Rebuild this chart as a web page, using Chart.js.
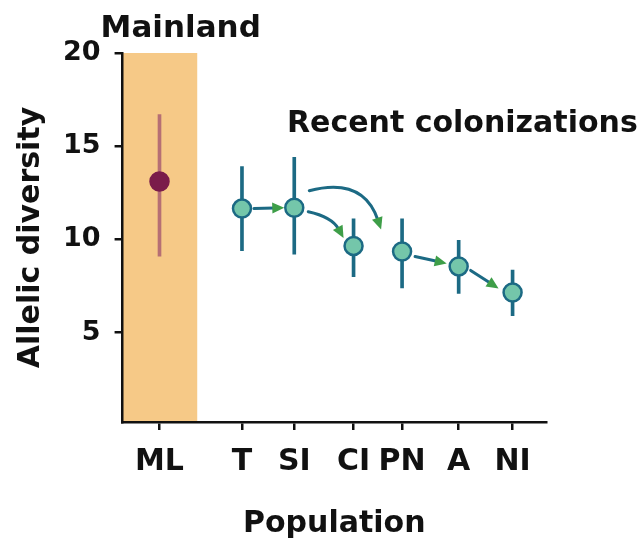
<!DOCTYPE html>
<html lang="en">
<head>
  <meta charset="UTF-8">
  <title>Allelic diversity by population</title>
  <script src="https://cdn.jsdelivr.net/npm/chart.js@4"></script>
  <style>
    body { margin: 0; background: #fff; }
    .wrap { width: 644px; height: 542px; position: relative; }
  </style>
</head>
<body>
<div class="wrap"><canvas id="chart"></canvas></div>

<script>
  // data
  const populations = ['ML', 'T', 'SI', 'CI', 'PN', 'A', 'NI'];
  const slots = [0, 1.53, 2.5, 3.6, 4.5, 5.55, 6.55];   // spacing of the category slots on the x axis
  const means = [13.1, 11.65, 11.7, 9.65, 9.35, 8.55, 7.15];
  const lows = [9.1, 9.4, 9.2, 8.0, 7.4, 7.1, 5.9];
  const highs = [16.7, 13.9, 14.4, 11.1, 11.1, 9.95, 8.35];
  const yTicks = [5, 10, 15, 20];

  // colonization arrows: from -> to
  const arrows = [
    { from: 'T', to: 'SI', start: [12, 0], end: [-10, 0], bend: 0 },
    { from: 'SI', to: 'CI', start: [14, 4], end: [-10, -8], bend: 10 },
    { from: 'SI', to: 'PN', start: [15, -17], end: [-21, -22], bend: 38 },
    { from: 'PN', to: 'A', start: [13, 5], end: [-12, -3], bend: 0 },
    { from: 'A', to: 'NI', start: [12, 4], end: [-14, -4], bend: 0 }
  ];

  const teal = '#1c6a84';
  const mint = '#74c6aa';
  const green = '#3e9e48';
  const maroon = '#7a1c4a';
  const maroonBar = '#b66f74';
  const bandColor = '#f6c987';
  const fontFamily = "'DejaVu Sans', sans-serif";

  Chart.defaults.font.family = fontFamily;
  Chart.defaults.color = '#111';

  const bandPlugin = {
    id: 'band',
    beforeDraw(chart) {
      const { ctx, chartArea, scales: { x, y } } = chart;
      ctx.save();
      ctx.fillStyle = bandColor;
      const x1 = x.getPixelForValue(0.7);
      const y0 = y.getPixelForValue(20);
      ctx.fillRect(chartArea.left, y0, x1 - chartArea.left, chartArea.bottom - y0);
      ctx.restore();
    }
  };

  const arrowPlugin = {
    id: 'arrows',
    afterDatasetsDraw(chart) {
      const { ctx, scales: { x, y } } = chart;
      ctx.save();
      arrows.forEach(a => {
        const i = populations.indexOf(a.from), j = populations.indexOf(a.to);
        const p0 = [x.getPixelForValue(slots[i]) + a.start[0], y.getPixelForValue(means[i]) + a.start[1]];
        const p2 = [x.getPixelForValue(slots[j]) + a.end[0], y.getPixelForValue(means[j]) + a.end[1]];
        const dx = p2[0] - p0[0], dy = p2[1] - p0[1];
        const len = Math.hypot(dx, dy);
        const mid = [(p0[0] + p2[0]) / 2, (p0[1] + p2[1]) / 2];
        const c = [mid[0] + dy / len * a.bend, mid[1] - dx / len * a.bend];
        // tangent at the tip
        let tx = p2[0] - c[0], ty = p2[1] - c[1];
        const tl = Math.hypot(tx, ty);
        tx /= tl; ty /= tl;
        const headLen = 12, headW = 5.5;
        const base = [p2[0] - tx * headLen, p2[1] - ty * headLen];
        ctx.strokeStyle = teal;
        ctx.lineWidth = 3;
        ctx.lineCap = 'round';
        ctx.beginPath();
        ctx.moveTo(p0[0], p0[1]);
        ctx.quadraticCurveTo(c[0], c[1], base[0] + tx * 2, base[1] + ty * 2);
        ctx.stroke();
        ctx.fillStyle = green;
        ctx.beginPath();
        ctx.moveTo(p2[0], p2[1]);
        ctx.lineTo(base[0] - ty * headW, base[1] + tx * headW);
        ctx.lineTo(base[0] + ty * headW, base[1] - tx * headW);
        ctx.closePath();
        ctx.fill();
      });
      ctx.restore();
    },
    afterDraw(chart) {
      const { ctx, chartArea, scales: { x, y } } = chart;
      ctx.save();
      ctx.fillStyle = '#111';
      ctx.textAlign = 'left';
      ctx.textBaseline = 'alphabetic';
      ctx.font = 'bold 31px ' + fontFamily;
      ctx.fillText('Mainland', chartArea.left - 22, chartArea.top - 16);
      ctx.font = 'bold 30px ' + fontFamily;
      ctx.fillText('Recent colonizations', x.getPixelForValue(slots[1]) + 45, y.getPixelForValue(15.77));
      ctx.restore();
    }
  };

  new Chart(document.getElementById('chart'), {
    data: {
      datasets: [
        {
          type: 'scatter',
          data: slots.map((s, i) => ({ x: s, y: means[i] })),
          pointRadius: 9,
          pointHoverRadius: 9,
          pointBorderWidth: 2.5,
          pointBackgroundColor: populations.map(p => p === 'ML' ? maroon : mint),
          pointBorderColor: populations.map(p => p === 'ML' ? maroon : teal),
          order: 0
        },
        {
          type: 'bar',
          data: slots.map((s, i) => ({ x: s, y: [lows[i], highs[i]] })),
          backgroundColor: populations.map(p => p === 'ML' ? maroonBar : teal),
          barThickness: 3,
          order: 1
        }
      ]
    },
    options: {
      responsive: true,
      maintainAspectRatio: false,
      animation: false,
      layout: { padding: { top: 53, right: 98, left: 13, bottom: 0 } },
      plugins: {
        legend: { display: false },
        tooltip: { enabled: false }
      },
      scales: {
        x: {
          type: 'linear',
          offset: false,
          min: -0.685,
          max: 7.17,
          afterBuildTicks: scale => { scale.ticks = slots.map(v => ({ value: v })); },
          ticks: {
            autoSkip: false,
            maxRotation: 0,
            padding: 14,
            font: { size: 30, weight: 'bold' },
            callback: (v, i) => populations[i]
          },
          grid: { offset: false, drawOnChartArea: false, tickLength: 8, color: '#111', lineWidth: 2.5 },
          border: { display: true, color: '#111', width: 2.5 },
          title: {
            display: true,
            text: 'Population',
            font: { size: 30, weight: 'bold' },
            padding: { top: 12, bottom: 0 }
          }
        },
        y: {
          type: 'linear',
          min: 0.2,
          max: 20,
          afterBuildTicks: scale => { scale.ticks = yTicks.map(v => ({ value: v })); },
          ticks: {
            padding: 14,
            font: { size: 27, weight: 'bold' }
          },
          grid: { drawOnChartArea: false, tickLength: 8, color: '#111', lineWidth: 2.5 },
          border: { display: true, color: '#111', width: 2.5 },
          title: {
            display: true,
            text: 'Allelic diversity',
            font: { size: 30, weight: 'bold' },
            padding: { top: 0, bottom: 0 }
          }
        }
      }
    },
    plugins: [bandPlugin, arrowPlugin]
  });
</script>
</body>
</html>
